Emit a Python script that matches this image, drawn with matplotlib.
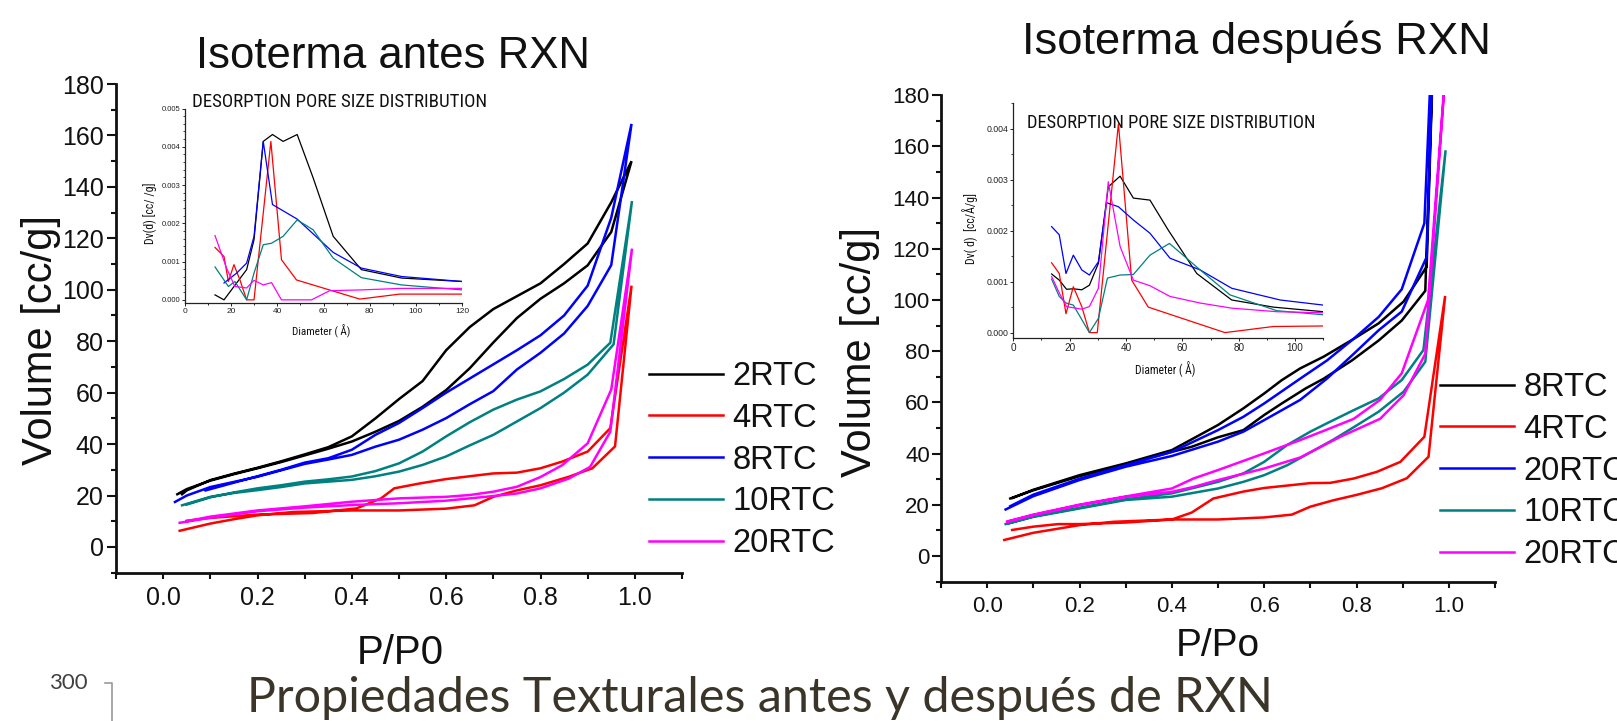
import matplotlib
matplotlib.use("Agg")
import matplotlib.pyplot as plt
from matplotlib.ticker import MultipleLocator, FormatStrFormatter
from matplotlib.lines import Line2D
from matplotlib import font_manager as fm

# ---------------- data: isotherms before reaction (P/P0, volume cc/g) ----------------
labels_before = ["2RTC", "4RTC", "8RTC", "10RTC", "20RTC"]
p_b2 = [0.03, 0.05, 0.1, 0.15, 0.2, 0.25, 0.3, 0.35, 0.4, 0.45, 0.5, 0.55, 0.6, 0.65, 0.7, 0.75, 0.8, 0.85, 0.9, 0.95, 0.993,
        0.95, 0.9, 0.85, 0.8, 0.75, 0.7, 0.65, 0.6, 0.55, 0.5, 0.45, 0.4, 0.35, 0.3, 0.25, 0.2, 0.15, 0.1, 0.05, 0.04]
v_b2 = [20.5, 22.5, 25.8, 28.3, 30.6, 33, 35.6, 38.2, 41, 44.8, 49, 54.5, 61, 69.5, 79.5, 89, 96.5, 102.5, 109.5, 122.5, 150,
        134, 118, 110, 102.5, 97.5, 92.5, 85.5, 76.5, 64.5, 57.5, 50, 43, 38.8, 36, 33.3, 30.8, 28.5, 26, 22, 20.5]
p_b4 = [0.035, 0.1, 0.15, 0.2, 0.275, 0.4, 0.5, 0.6, 0.66, 0.7, 0.75, 0.8, 0.86, 0.91, 0.958, 0.993,
        0.948, 0.9, 0.846, 0.8, 0.75, 0.7, 0.6, 0.544, 0.49, 0.462, 0.41, 0.317, 0.2, 0.1, 0.05]
v_b4 = [6.3, 9.1, 10.8, 12.3, 13.6, 14.2, 14.2, 14.9, 16.2, 19.5, 22, 24, 27.3, 30.6, 39.1, 101.6,
        46.2, 37.1, 33.2, 30.6, 28.9, 28.6, 26.4, 24.7, 22.8, 18.9, 15, 13.2, 12.6, 11.3, 10.2]
p_b8 = [0.025, 0.05, 0.1, 0.15, 0.2, 0.25, 0.3, 0.35, 0.4, 0.45, 0.5, 0.55, 0.6, 0.65, 0.7, 0.75, 0.8, 0.85, 0.9, 0.95, 0.993,
        0.95, 0.9, 0.85, 0.8, 0.75, 0.7, 0.65, 0.6, 0.55, 0.5, 0.45, 0.4, 0.35, 0.3, 0.25, 0.2, 0.15, 0.09]
v_b8 = [17.5, 20, 23.3, 25.3, 27.3, 29.8, 32.3, 34, 35.8, 39, 41.7, 45.6, 50.1, 55.5, 60.6, 69, 75.5, 83, 93.7, 109.6, 164.5,
        128, 101.6, 90, 82.3, 76.5, 71, 65.5, 60, 54, 48.2, 43.6, 37.8, 34.5, 32.8, 30, 27.5, 25, 22]
p_b10 = [0.04, 0.1, 0.15, 0.2, 0.25, 0.3, 0.35, 0.4, 0.45, 0.5, 0.55, 0.6, 0.65, 0.7, 0.75, 0.8, 0.85, 0.9, 0.955, 0.994,
         0.948, 0.9, 0.85, 0.8, 0.75, 0.7, 0.65, 0.6, 0.55, 0.5, 0.45, 0.4, 0.35, 0.3, 0.25, 0.2, 0.15, 0.1, 0.05]
v_b10 = [16.2, 19.5, 21, 22.1, 23.3, 24.7, 25.4, 26.1, 27.5, 29.3, 31.9, 35.2, 39.5, 43.6, 48.8, 54, 60, 67, 78.8, 134.5,
         79.4, 70.9, 65.3, 60.5, 57.3, 53.4, 48.5, 43, 37.1, 32.5, 29.5, 27.4, 26.3, 25.4, 24, 22.8, 21.2, 19.3, 16.5]
p_b20 = [0.035, 0.1, 0.2, 0.3, 0.4, 0.5, 0.6, 0.65, 0.7, 0.75, 0.8, 0.86, 0.905, 0.948, 0.994,
         0.95, 0.9, 0.846, 0.8, 0.75, 0.7, 0.65, 0.6, 0.5, 0.4, 0.3, 0.2, 0.1, 0.05]
v_b20 = [9.4, 11.4, 13.9, 15.3, 16.3, 17, 18, 18.9, 19.8, 20.8, 22.8, 26.6, 31.1, 44.8, 116,
         61.2, 40.3, 31.8, 27.2, 23.4, 21.5, 20.2, 19.5, 18.9, 17.6, 15.8, 14.2, 11.8, 10]

# ---------------- data: isotherms after reaction ----------------
labels_after = ["8RTC", "4RTC", "20RTC", "10RTC", "20RTC"]
p_a8 = [0.05, 0.1, 0.2, 0.3, 0.4, 0.443, 0.5, 0.555, 0.6, 0.638, 0.69, 0.729, 0.79, 0.848, 0.898, 0.949, 0.97,
        0.952, 0.902, 0.848, 0.79, 0.729, 0.678, 0.638, 0.6, 0.555, 0.5, 0.443, 0.4, 0.3, 0.2, 0.1, 0.055]
v_a8 = [22.5, 25.7, 31.2, 35.8, 40.7, 42.7, 46.4, 49.2, 55.1, 59.6, 65.5, 69.3, 76.4, 84.2, 92, 103.6, 220,
        113, 99.4, 90.9, 84.4, 77.9, 73.3, 68.7, 63.5, 57.7, 51.2, 45.6, 41.4, 36.2, 31.6, 25.9, 22.7]
p_a4 = [0.037, 0.1, 0.2, 0.274, 0.4, 0.5, 0.6, 0.66, 0.7, 0.75, 0.8, 0.855, 0.909, 0.956, 0.992,
        0.947, 0.895, 0.844, 0.794, 0.743, 0.7, 0.6, 0.555, 0.49, 0.443, 0.4, 0.3, 0.2, 0.154, 0.1, 0.054]
v_a4 = [6.3, 9.1, 12.1, 13.4, 14.3, 14.3, 15.1, 16.2, 19.3, 21.8, 23.9, 26.5, 30.4, 38.8, 101.6,
        46.6, 36.8, 32.9, 30.3, 28.6, 28.5, 26.6, 25.2, 22.5, 17, 14.3, 13.1, 12.5, 12.5, 11.5, 10.2]
p_a20b = [0.04, 0.1, 0.2, 0.3, 0.4, 0.5, 0.555, 0.6, 0.678, 0.736, 0.794, 0.848, 0.898, 0.952, 0.975,
          0.947, 0.898, 0.848, 0.794, 0.736, 0.678, 0.6, 0.555, 0.5, 0.4, 0.3, 0.2, 0.1, 0.05]
v_a20b = [18.2, 23.4, 29.7, 34.9, 39.1, 44.7, 48.6, 53.1, 61, 69.3, 79, 88.2, 95.5, 116.8, 250,
          130, 104.2, 93.4, 84.9, 76.4, 69.3, 59.6, 54.4, 49.2, 40.7, 35.5, 30.2, 24, 19.5]
p_a10 = [0.04, 0.1, 0.2, 0.3, 0.4, 0.5, 0.555, 0.6, 0.65, 0.7, 0.75, 0.8, 0.848, 0.902, 0.949, 0.993,
         0.945, 0.898, 0.848, 0.794, 0.743, 0.7, 0.65, 0.6, 0.555, 0.5, 0.4, 0.3, 0.2, 0.1, 0.045]
v_a10 = [12.5, 15.3, 18.6, 21.9, 23.2, 26.4, 29, 31.6, 35.5, 40.5, 45.5, 51, 56.4, 64.2, 75.9, 158.5,
         80.5, 68.75, 61.6, 57, 52.5, 48.6, 43.4, 36.8, 32.3, 29, 24.5, 22.2, 18.9, 15.5, 12.7]
p_a20m = [0.043, 0.1, 0.2, 0.3, 0.4, 0.447, 0.5, 0.6, 0.678, 0.765, 0.851, 0.902, 0.949, 0.995,
          0.955, 0.898, 0.851, 0.794, 0.733, 0.678, 0.6, 0.5, 0.447, 0.4, 0.3, 0.2, 0.1, 0.045]
v_a20m = [13.4, 16, 19.9, 23.1, 25.1, 27, 29.7, 34.2, 38.5, 46.6, 53.6, 62.8, 79, 195,
          100, 71.4, 61, 53.6, 49.2, 45.3, 40.1, 33.6, 30.3, 26.4, 23.3, 20.1, 16.2, 13.6]

# ---------------- data: desorption pore size distributions (inset) ----------------
d_b2 = [13, 16.9, 26.7, 29.9, 33.9, 37.9, 42.5, 48.6, 55.5, 64.2, 76.4, 93.8, 120]
dv_b2 = [0.00013, 0.0, 0.00079, 0.00157, 0.00414, 0.00432, 0.00414, 0.00432, 0.00319, 0.00166, 0.00079, 0.00057, 0.00048]
d_b4 = [13, 16.9, 18.8, 21.2, 23.8, 26.7, 29.9, 37.2, 41.8, 48.3, 75.7, 93, 120]
dv_b4 = [0.00137, 0.00113, 0.00048, 0.00092, 0.00052, 0.0, 0.0, 0.00414, 0.00105, 0.00052, 0.00002, 0.00015, 0.00015]
d_b8 = [16.9, 22.4, 26.7, 29.9, 33.9, 37.9, 48.6, 64.2, 76.4, 93.8, 120]
dv_b8 = [0.00044, 0.0007, 0.00096, 0.00166, 0.00414, 0.00249, 0.00211, 0.00124, 0.00083, 0.00061, 0.00048]
d_b10 = [13, 18.8, 21.6, 26.7, 29.9, 33.9, 37.5, 42.5, 48.6, 55.5, 64.2, 76.4, 93.8, 120]
dv_b10 = [0.00086, 0.00035, 0.00048, 0.0, 0.0007, 0.00144, 0.00148, 0.00166, 0.00209, 0.00183, 0.00109, 0.00058, 0.00039, 0.00026]
d_b20 = [13, 18, 21.6, 26.7, 29.9, 33.9, 37.5, 41.8, 54.8, 62.7, 76.4, 93.8, 120]
dv_b20 = [0.00168, 0.00083, 0.00035, 0.00031, 0.00051, 0.00039, 0.00045, 0.0, 0.0, 0.00024, 0.00026, 0.0003, 0.0003]

d_a8 = [13.6, 16.3, 18.9, 21.3, 24.3, 27, 30.2, 33.7, 37.9, 42.6, 48.5, 55, 65.1, 77.5, 92.3, 110]
dv_a8 = [0.00115, 0.00103, 0.00085, 0.00086, 0.00084, 0.00093, 0.00136, 0.00286, 0.00307, 0.00264, 0.0026, 0.00201, 0.00116, 0.00064, 0.0005, 0.00041]
d_a4 = [13.6, 16.3, 18.7, 21.3, 24.3, 27, 29.8, 37.3, 42, 47.9, 75.1, 92.3, 110]
dv_a4 = [0.00137, 0.00116, 0.00037, 0.0009, 0.00051, 0.0, 0.0, 0.0041, 0.00103, 0.0005, 0.0, 0.00012, 0.00013]
d_a20b = [13.6, 16.3, 18.7, 21.3, 24.3, 27, 30.2, 33.1, 37.3, 42.6, 48.5, 55.6, 66.3, 77.5, 94.7, 110]
dv_a20b = [0.00208, 0.00192, 0.00116, 0.00152, 0.00123, 0.00113, 0.00139, 0.00255, 0.00247, 0.00221, 0.00195, 0.00146, 0.00123, 0.00087, 0.00064, 0.00054]
d_a10 = [13.6, 16.3, 18.7, 21.3, 27, 30.2, 33.4, 37.9, 42.6, 48.5, 55.4, 66.3, 76.9, 93.5, 110]
dv_a10 = [0.00105, 0.00071, 0.00058, 0.00054, 0.0, 0.00028, 0.00107, 0.00113, 0.00114, 0.00152, 0.00175, 0.00123, 0.00074, 0.00043, 0.00035]
d_a20m = [13.6, 16.3, 18.9, 24.3, 27, 30.2, 33.7, 37.9, 42.6, 48.5, 55.6, 66.3, 77.5, 93.5, 110]
dv_a20m = [0.0011, 0.00078, 0.00051, 0.00046, 0.00051, 0.00087, 0.00296, 0.00169, 0.00103, 0.00092, 0.00071, 0.00058, 0.00048, 0.00041, 0.00039]

colors = ["#000000", "#ff0000", "#0000ff", "#008080", "#ff00ff"]

# ---------------- figure ----------------
W, H = 1617, 721
plt.rcParams["font.family"] = ["Liberation Sans", "DejaVu Sans"]
fig = plt.figure(figsize=(W / 100, H / 100), dpi=100)
fig.patch.set_facecolor("white")
TXT = "#111111"

_installed = {f.name for f in fm.fontManager.ttflist}
_narrow_choice = [n for n in ["Liberation Sans Narrow", "Arial Narrow", "Roboto Condensed",
                              "Open Sans Condensed"] if n in _installed]
narrow = (_narrow_choice[:1]) + ["Liberation Sans", "DejaVu Sans"]


def ax_px(x0, y0, x1, y1):
    return fig.add_axes([x0 / W, 1 - y1 / H, (x1 - x0) / W, (y1 - y0) / H])


def ftext(x, y, s, **kw):
    return fig.text(x / W, 1 - y / H, s, **kw)


def fit_width(t, target):
    r = fig.canvas.get_renderer()
    w = t.get_window_extent(renderer=r).width
    t.set_fontsize(t.get_fontsize() * target / w)


def style_main(ax, fs, xpad, ypad):
    ax.set_xlim(-0.1, 1.1)
    ax.set_ylim(-10, 180)
    ax.set_facecolor("none")
    for s in ["top", "right"]:
        ax.spines[s].set_visible(False)
    for s in ["left", "bottom"]:
        ax.spines[s].set_linewidth(2.0)
        ax.spines[s].set_color(TXT)
    ax.xaxis.set_major_locator(MultipleLocator(0.2))
    ax.xaxis.set_minor_locator(MultipleLocator(0.1))
    ax.xaxis.set_major_formatter(FormatStrFormatter("%.1f"))
    ax.yaxis.set_major_locator(MultipleLocator(20))
    ax.yaxis.set_minor_locator(MultipleLocator(10))
    ax.tick_params(axis="x", which="both", direction="out", length=4.5, width=1.5,
                   labelsize=fs, pad=xpad, colors=TXT)
    ax.tick_params(axis="y", which="major", direction="out", length=6.5, width=1.5,
                   labelsize=fs, pad=ypad, colors=TXT)
    ax.tick_params(axis="y", which="minor", direction="out", length=3.5, width=1.5, colors=TXT)


def style_inset(ax, xmax, ytop, ybot, ymin_step, fsx, fsy):
    ax.set_xlim(0, xmax)
    ax.set_ylim(ybot, ytop)
    ax.set_facecolor("none")
    for s in ["top", "right"]:
        ax.spines[s].set_visible(False)
    for s in ["left", "bottom"]:
        ax.spines[s].set_linewidth(0.9)
        ax.spines[s].set_color("#222222")
    ax.xaxis.set_major_locator(MultipleLocator(20))
    ax.xaxis.set_minor_locator(MultipleLocator(10))
    ax.yaxis.set_major_locator(MultipleLocator(0.001))
    ax.yaxis.set_minor_locator(MultipleLocator(ymin_step))
    ax.yaxis.set_major_formatter(FormatStrFormatter("%.3f"))
    ax.tick_params(axis="x", which="major", direction="out", length=2.2, width=0.7,
                   labelsize=fsx, pad=1.5, colors="#222222")
    ax.tick_params(axis="x", which="minor", direction="out", length=1.5, width=0.7, colors="#222222")
    ax.tick_params(axis="y", which="major", direction="out", length=2.2, width=0.7,
                   labelsize=fsy, pad=1.0, colors="#222222")
    ax.tick_params(axis="y", which="minor", direction="out", length=1.3, width=0.6, colors="#222222")


LEG_KW = dict(frameon=False, fontsize=23.5, handlelength=2.27, handletextpad=0.28,
              labelspacing=0.33, borderpad=0, borderaxespad=0)

# ---------------- left main plot ----------------
axL = ax_px(116, 84, 682, 572.7)
style_main(axL, 18, 5.0, 2.5)
before_p = [p_b2, p_b4, p_b8, p_b10, p_b20]
before_v = [v_b2, v_b4, v_b8, v_b10, v_b20]
for p, v, c, lab in zip(before_p, before_v, colors, labels_before):
    axL.plot(p, v, color=c, lw=1.8, label=lab, solid_joinstyle="miter")
legL = axL.legend(loc="upper left", bbox_to_anchor=(649 / W, 1 - 361 / H),
                  bbox_transform=fig.transFigure, **LEG_KW)
for t in legL.get_texts():
    t.set_color(TXT)

# ---------------- right main plot ----------------
axR = ax_px(941, 95.2, 1495, 581.7)
style_main(axR, 16, 6.0, 1.5)
after_p = [p_a8, p_a4, p_a20b, p_a10, p_a20m]
after_v = [v_a8, v_a4, v_a20b, v_a10, v_a20m]
for p, v, c, lab in zip(after_p, after_v, colors, labels_after):
    axR.plot(p, v, color=c, lw=1.8, label=lab, solid_joinstyle="miter")
legR = axR.legend(loc="upper left", bbox_to_anchor=(1440 / W, 1 - 372 / H),
                  bbox_transform=fig.transFigure, **LEG_KW)
for t in legR.get_texts():
    t.set_color(TXT)

# ---------------- left inset ----------------
axIL = ax_px(185, 108.5, 462, 303.3)
style_inset(axIL, 120, 0.005, -0.00009, 0.0002, 6, 5.5)
for d, dv, c in zip([d_b2, d_b4, d_b8, d_b10, d_b20], [dv_b2, dv_b4, dv_b8, dv_b10, dv_b20], colors):
    axIL.plot(d, dv, color=c, lw=0.9)

# ---------------- right inset ----------------
axIR = ax_px(1013.3, 103.3, 1323.3, 337.7)
style_inset(axIR, 110, 0.0045, -0.0001, 0.0005, 7.2, 6.3)
for d, dv, c in zip([d_a8, d_a4, d_a20b, d_a10, d_a20m], [dv_a8, dv_a4, dv_a20b, dv_a10, dv_a20m], colors):
    axIR.plot(d, dv, color=c, lw=0.9)

# ---------------- texts ----------------
tL = ftext(393, 67.5, "Isoterma antes RXN", ha="center", va="baseline", fontsize=32, color=TXT)
fit_width(tL, 394)
tR = ftext(1256, 54, "Isoterma después RXN", ha="center", va="baseline", fontsize=32, color=TXT)
fit_width(tR, 469)

ftext(41, 340, "Volume [cc/g]", rotation=90, ha="center", va="center", fontsize=30, color=TXT)
ftext(860, 352, "Volume [cc/g]", rotation=90, ha="center", va="center", fontsize=30, color=TXT)
ftext(400, 664, "P/P0", ha="center", va="baseline", fontsize=29, color=TXT)
ftext(1218, 656, "P/Po", ha="center", va="baseline", fontsize=28, color=TXT)

tiL = ftext(191.7, 102.3, "DESORPTION PORE SIZE DISTRIBUTION", ha="left", va="center",
            fontsize=12, color=TXT, family=narrow)
fit_width(tiL, 294)
tiR = ftext(1026.7, 122.7, "DESORPTION PORE SIZE DISTRIBUTION", ha="left", va="center",
            fontsize=12, color=TXT, family=narrow)
fit_width(tiR, 288)

ftext(150, 213, "Dv(d) [cc/ /g]", rotation=90, ha="center", va="center", fontsize=8.5,
      color=TXT, family=narrow)
ftext(321, 331, "Diameter ( Å)", ha="center", va="center", fontsize=8, color=TXT, family=narrow)
ftext(970, 228, "Dv( d)  [cc/Å/g]", rotation=90, ha="center", va="center", fontsize=8.5,
      color=TXT, family=narrow)
ftext(1165, 369, "Diameter ( Å)", ha="center", va="center", fontsize=8.3, color=TXT, family=narrow)

tb = ftext(247, 711.5, "Propiedades Texturales antes y después de RXN", ha="left", va="baseline",
           fontsize=30, color="#3a3528", family=["Lato", "DejaVu Sans"])
fit_width(tb, 1025)
ftext(68, 683, "300", ha="center", va="center", fontsize=16, color="#404040",
      family=["Lato", "DejaVu Sans"])
fig.add_artist(Line2D([105 / W, 112 / W, 112 / W], [1 - 682.7 / H, 1 - 682.7 / H, 0.0],
                      transform=fig.transFigure, color="#9a9a9a", lw=1.2))

fig.savefig("out.png", dpi=100, facecolor="white")
